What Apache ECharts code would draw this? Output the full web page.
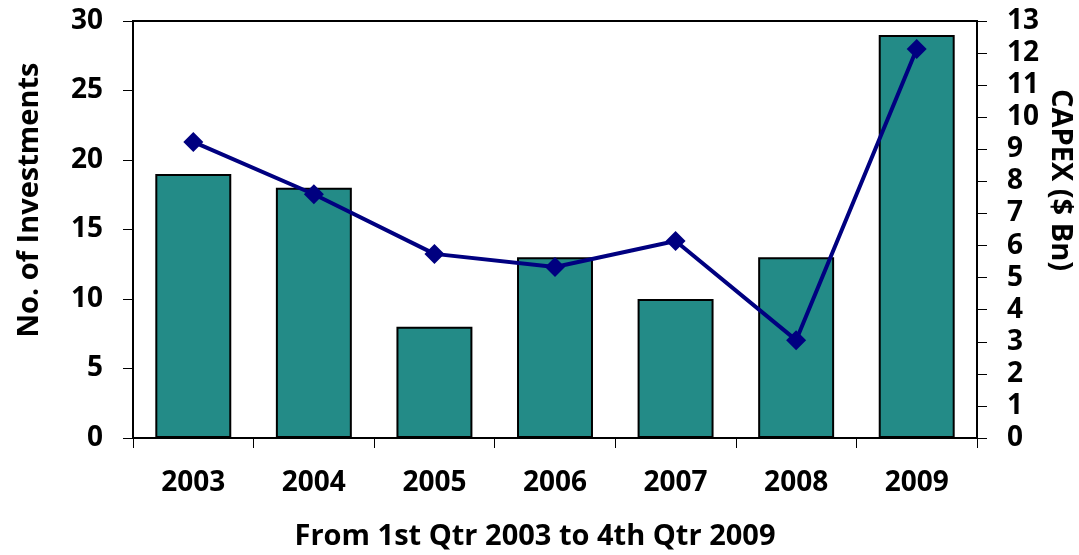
<!DOCTYPE html>
<html>
<head>
    <meta charset="utf-8">
    <title></title>
    <script src="https://cdn.jsdelivr.net/npm/echarts@6/dist/echarts.min.js" type="text/javascript"></script>
</head>
<body style="margin:0;background:#fff;">
    <div id="chartDiv" style="width:1079px;height:555px;"></div>
</body>
<script type="text/javascript" charset="utf-8">
    var years = ['2003', '2004', '2005', '2006', '2007', '2008', '2009'];
    var investments = [19, 18, 8, 13, 10, 13, 29];
    var capex = [9.23, 7.6, 5.74, 5.33, 6.14, 3.05, 12.13];

    var fontName = 'Open Sans';
    var chart = echarts.init(document.getElementById('chartDiv'));

    function titleStyle(txt) {
        return { text: txt, fontFamily: fontName, fontWeight: 'bold', fontSize: 29, fill: '#000', align: 'center', verticalAlign: 'middle' };
    }

    var option = {
        animation: false,
        backgroundColor: '#fff',
        grid: { left: 133, right: 102, top: 21, bottom: 117, show: true, borderColor: '#000', borderWidth: 2 },
        graphic: [
            { type: 'text', x: 30, y: 200, rotation: Math.PI / 2, style: titleStyle('No. of Investments') },
            { type: 'text', x: 1060, y: 180, rotation: -Math.PI / 2, style: titleStyle('CAPEX ($ Bn)') },
            { type: 'text', x: 535, y: 537, style: titleStyle('From 1st Qtr 2003 to 4th Qtr 2009') }
        ],
        xAxis: {
            type: 'category',
            data: years,
            axisLine: { lineStyle: { color: '#000', width: 2 } },
            axisTick: { show: true, length: 10, inside: false, lineStyle: { color: '#000' } },
            axisLabel: { color: '#000', fontFamily: fontName, fontWeight: 'bold', fontSize: 28, margin: 31 }
        },
        yAxis: [
            {
                type: 'value', min: 0, max: 30, interval: 5,
                axisLine: { show: true, lineStyle: { color: '#000', width: 2 } },
                axisTick: { show: true, length: 10, lineStyle: { color: '#000' } },
                axisLabel: { color: '#000', fontFamily: fontName, fontWeight: 'bold', fontSize: 28, margin: 30 },
                splitLine: { show: false }
            },
            {
                type: 'value', min: 0, max: 13, interval: 1, position: 'right',
                axisLine: { show: true, lineStyle: { color: '#000', width: 2 } },
                axisTick: { show: true, length: 10, lineStyle: { color: '#000' } },
                axisLabel: { color: '#000', fontFamily: fontName, fontWeight: 'bold', fontSize: 28, margin: 30 },
                splitLine: { show: false }
            }
        ],
        series: [
            {
                name: 'No. of Investments',
                type: 'bar',
                data: investments,
                barWidth: '63%',
                itemStyle: { color: '#238b87', borderColor: '#000', borderWidth: 2 }
            },
            {
                name: 'CAPEX',
                type: 'line',
                yAxisIndex: 1,
                data: capex,
                symbol: 'diamond',
                symbolSize: 20,
                lineStyle: { color: '#000080', width: 4 },
                itemStyle: { color: '#000080' }
            }
        ]
    };
    chart.setOption(option);
</script>
</html>
